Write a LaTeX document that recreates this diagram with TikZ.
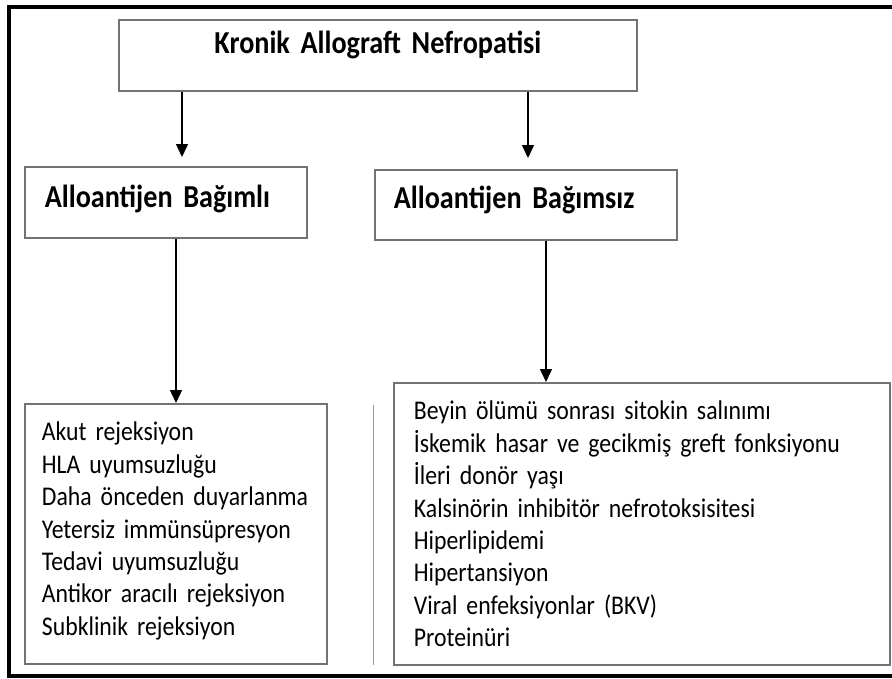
\documentclass[tikz,border=0pt]{standalone}
\usepackage{fontspec}
\setmainfont{Carlito}[FakeStretch=0.88, WordSpace=0.6]
\usetikzlibrary{positioning, arrows.meta}

\begin{document}
\begin{tikzpicture}[x=1pt, y=-1pt,
		every edge/.style = {draw=black, line width=1.4pt,
			-{Triangle[length=13pt, width=12pt]}},
		bx/.style = {draw=black!55, line width=1.8pt, fill=white,
			anchor=north west, inner ysep=0pt, align=left},
		hd/.style = {bx, font=\fontsize{32}{36}\selectfont\bfseries},
		lst/.style = {bx, font=\fontsize{27}{32.4}\selectfont}
                    ]
		\useasboundingbox (0,0) rectangle (892,678);
		\draw[line width=4pt] (892,7) -- (9,7) -- (9,676) -- (892,676);

		\node(kan) [hd, align=center, text width=518pt, inner xsep=0pt,
			text height=34pt, text depth=37pt] at (118,19) {Kronik Allograft Nefropatisi};
		\node(bagimli) [hd, text width=242pt, inner xsep=20pt,
			text height=41pt, text depth=30pt] at (24,166) {Alloantijen Bağımlı};
		\node(bagimsiz) [hd, text width=264pt, inner xsep=19pt,
			text height=39pt, text depth=31pt] at (374,169) {Alloantijen Bağımsız};
		\node(bagimliL) [lst, text width=268pt, inner xsep=17pt,
			text height=37pt, text depth=223pt] at (24,403) {Akut rejeksiyon\\
			HLA uyumsuzluğu\\ Daha önceden duyarlanma\\ Yetersiz immünsüpresyon\\
			Tedavi uyumsuzluğu\\ Antikor aracılı rejeksiyon\\ Subklinik rejeksiyon};
		\node(bagimsizL) [lst, text width=456pt, inner xsep=20pt,
			text height=37pt, text depth=245pt] at (393,382) {Beyin ölümü sonrası sitokin salınımı\\
			İskemik hasar ve gecikmiş greft fonksiyonu\\ İleri donör yaşı\\
			Kalsinörin inhibitör nefrotoksisitesi\\ Hiperlipidemi\\ Hipertansiyon\\
			Viral enfeksiyonlar (BKV)\\ Proteinüri};

		\coordinate (a1) at (182,157);
		\coordinate (a2) at (528,158);
		\coordinate (a3) at (176,403);
		\coordinate (a4) at (546,382);

		\path   (kan.south -| a1) edge (a1)
		        (kan.south -| a2) edge (a2)
		        (bagimli.south -| a3) edge (bagimliL.north -| a3)
		        (bagimsiz.south -| a4) edge (bagimsizL.north -| a4);

		\draw[black!40, line width=1pt] (373,405) -- (373,665);
	\end{tikzpicture}
\end{document}
